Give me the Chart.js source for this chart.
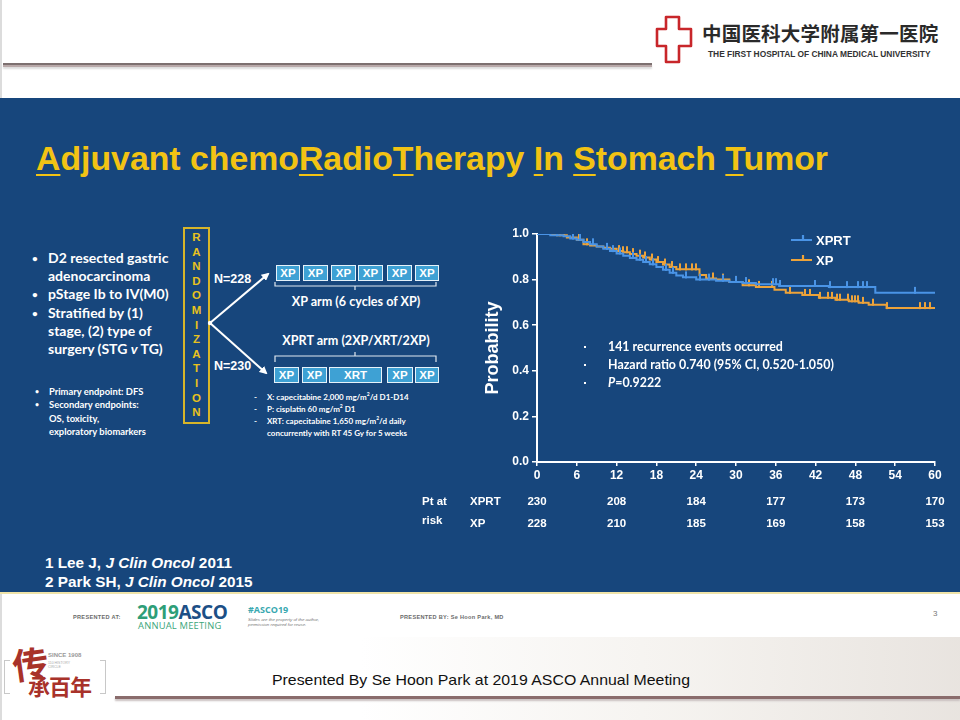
<!DOCTYPE html>
<html>
<head>
<meta charset="utf-8">
<script src="https://cdn.jsdelivr.net/npm/chart.js@4.4.1/dist/chart.umd.min.js"></script>
<style>
body { margin: 0; width: 960px; height: 720px; position: relative; background: #fff; overflow: hidden; font-family: "Liberation Sans", Arial, sans-serif; }
.abs { position: absolute; white-space: nowrap; }
#edge { left: 0; top: 0; width: 2px; height: 720px; background: #dcdcdc; }
#topline { left: 3px; top: 63px; width: 649px; height: 2px; background: #7d7070; border-bottom: 2px solid #b9a9a9; box-shadow: 0 2px 2px #ddd; }
#hospCn { left: 702px; top: 18px; font-family: "Noto Sans CJK SC"; font-weight: 700; font-size: 19.5px; color: #2a2a2a; letter-spacing: 0.2px; }
#hospEn { left: 708px; top: 49px; font-weight: 700; font-size: 8.4px; color: #333; }
#panel { left: 0; top: 98px; width: 960px; height: 494px; background: #17467c; border-bottom: 2px solid #efe3a8; }
#title { left: 36px; top: 140px; font-weight: 700; font-size: 33px; color: #f2c314; transform-origin: 0 0; }
#title u { text-decoration-thickness: 2px; text-underline-offset: 4px; }
.bul { color: #fff; font-family: Lato, "Open Sans", sans-serif; font-weight: 700; }
.big { font-size: 14px; line-height: 18.2px; }
.dot { font-size: 10px; line-height: 18.2px; }
.small { font-size: 9.4px; line-height: 13.4px; }
.sdot { font-size: 7px; line-height: 13.4px; }
.note { font-size: 8px; line-height: 12px; }
#randBox { left: 183px; top: 227px; width: 23px; height: 193px; border: 2px solid #d7b52a; }
.letter { position: absolute; left: 0; width: 23px; text-align: center; color: #e8c21e; font-weight: 700; font-size: 11.5px; }
.cyc { position: absolute; height: 14px; background: #3ea1d4; border: 1px solid #e6f2fa; color: #fff; font-weight: 700; font-size: 11.5px; line-height: 14px; text-align: center; }
.arm { color: #fff; font-family: Lato, "Open Sans", sans-serif; font-weight: 700; font-size: 12.6px; }
.nlab { color: #fff; font-weight: 700; font-size: 12.5px; }
#refs { left: 45px; top: 553px; color: #fff; font-weight: 700; font-size: 15.3px; line-height: 19px; }
#chartBox { left: 410px; top: 215px; width: 545px; height: 330px; }
#asco1 { left: 73px; top: 614px; font-size: 5.6px; color: #6b6b6b; letter-spacing: 0.3px; font-weight: 700; }
#asco2 { left: 137px; top: 599px; font-family: "Open Sans", sans-serif; font-weight: 700; font-size: 19px; letter-spacing: -0.5px; }
#asco3 { left: 138px; top: 619px; font-family: "Open Sans", sans-serif; font-size: 9.4px; color: #3aa57a; letter-spacing: 0.2px; }
#asco4 { left: 248px; top: 603px; font-family: "Open Sans", sans-serif; font-size: 9px; color: #38a8b0; font-weight: 700; }
#asco5 { left: 248px; top: 617px; font-size: 4.4px; color: #777; line-height: 5px; font-style: italic; }
#asco6 { left: 400px; top: 614px; font-size: 5.6px; color: #6b6b6b; letter-spacing: 0.3px; font-weight: 700; }
#pageNo { left: 933px; top: 609px; font-size: 8px; color: #777; }
#sketch { left: 360px; top: 637px; width: 600px; height: 83px; background: linear-gradient(90deg, rgba(255,255,255,0) 0%, rgba(225,218,208,0.35) 55%, rgba(205,195,185,0.45) 100%); }
#presented { left: 272px; top: 671px; font-size: 15px; color: #111; transform-origin: 0 0; }
#botline { left: 115px; top: 696px; width: 845px; height: 3px; background: #8a6c6c; box-shadow: 0 2px 2px #c9c0c0; }
.cal { font-family: "Noto Sans CJK SC"; color: #a8322a; font-weight: 700; }
.brk { position: absolute; top: 660px; width: 5px; height: 32px; border: 1.5px solid #c8c8c8; }
</style>
</head>
<body>
<div id="edge" class="abs"></div>

<svg class="abs" style="left:654px;top:14px" width="40" height="52" viewBox="0 0 40 52">
  <path d="M12,3 H25 V15 H37 V32 H25 V48 H12 V32 H3 V15 H12 Z" fill="none" stroke="#c8262a" stroke-width="2.6" stroke-linejoin="round"/>
</svg>
<div id="hospCn" class="abs">中国医科大学附属第一医院</div>
<div id="hospEn" class="abs">THE FIRST HOSPITAL OF CHINA MEDICAL UNIVERSITY</div>
<div id="topline" class="abs"></div>

<div id="panel" class="abs"></div>
<div id="title" class="abs"><u>A</u>djuvant chemo<u>R</u>adio<u>T</u>herapy <u>I</u>n <u>S</u>tomach <u>T</u>umor</div>

<!-- left bullets -->
<div class="abs bul dot" style="left:32px;top:249px">•<br><br>•<br>•</div>
<div class="abs bul big" style="left:48px;top:249px">D2 resected gastric<br>adenocarcinoma<br>pStage Ib to IV(M0)<br>Stratified by (1)<br>stage, (2) type of<br>surgery (STG <i>v</i> TG)</div>
<div class="abs bul sdot" style="left:35px;top:385px">•<br>•</div>
<div class="abs bul small" style="left:49px;top:385px">Primary endpoint: DFS<br>Secondary endpoints:<br>OS, toxicity,<br>exploratory biomarkers</div>

<!-- randomization -->
<div id="randBox" class="abs"></div>
<div class="abs" id="randLetters" style="left:185px;top:229px;width:23px;height:190px"></div>

<svg class="abs" style="left:200px;top:260px" width="80" height="125" viewBox="0 0 80 125">
  <defs>
    <marker id="ah" markerWidth="8" markerHeight="8" refX="6" refY="4" orient="auto" markerUnits="userSpaceOnUse">
      <path d="M0,0 L8,4 L0,8 Z" fill="#fff"/>
    </marker>
  </defs>
  <circle cx="10" cy="63" r="2.2" fill="#fff"/>
  <line x1="10" y1="63" x2="68" y2="14" stroke="#fff" stroke-width="2" marker-end="url(#ah)"/>
  <line x1="10" y1="63" x2="66" y2="113" stroke="#fff" stroke-width="2" marker-end="url(#ah)"/>
</svg>
<div class="abs nlab" style="left:214px;top:272px">N=228</div>
<div class="abs nlab" style="left:214px;top:359px">N=230</div>

<div class="abs" id="rowTop" style="left:0;top:265px"></div>
<div class="abs" id="rowBot" style="left:0;top:367px"></div>

<svg class="abs" style="left:270px;top:282px" width="175" height="80" viewBox="0 0 175 80">
  <path d="M5,0 V4 H166 V0 M85,4 V8" fill="none" stroke="#dfe8f0" stroke-width="1.2"/>
  <path d="M5,80 V74 H166 V80 M85,74 V70" fill="none" stroke="#dfe8f0" stroke-width="1.2"/>
</svg>
<div class="abs arm" style="left:356px;top:294px;transform:translateX(-50%)">XP arm (6 cycles of XP)</div>
<div class="abs arm" style="left:356px;top:333px;transform:translateX(-50%)">XPRT arm (2XP/XRT/2XP)</div>

<div class="abs bul note" style="left:254px;top:391px">-<br>-<br>-</div>
<div class="abs bul note" style="left:267px;top:391px">X: capecitabine 2,000 mg/m<sup style="font-size:5px;line-height:0">2</sup>/d D1-D14<br>P: cisplatin 60 mg/m<sup style="font-size:5px;line-height:0">2</sup> D1<br>XRT: capecitabine 1,650 mg/m<sup style="font-size:5px;line-height:0">2</sup>/d daily<br>concurrently with RT 45 Gy for 5 weeks</div>

<div id="refs" class="abs">1 Lee J, <i>J Clin Oncol</i> 2011<br>2 Park SH, <i>J Clin Oncol</i> 2015</div>

<div id="chartBox" class="abs"><canvas id="km"></canvas></div>

<!-- footer -->
<div id="asco1" class="abs">PRESENTED AT:</div>
<div id="asco2" class="abs"><span style="color:#2e9e78">2019</span><span style="color:#1c4f86">ASCO</span></div>
<div id="asco3" class="abs">ANNUAL MEETING</div>
<div id="asco4" class="abs">#ASCO19</div>
<div id="asco5" class="abs">Slides are the property of the author,<br>permission required for reuse.</div>
<div id="asco6" class="abs">PRESENTED BY: Se Hoon Park, MD</div>
<div id="pageNo" class="abs">3</div>

<div id="sketch" class="abs"></div>
<div class="brk" style="left:4px;border-right:none"></div>
<div class="brk" style="left:100px;border-left:none"></div>
<div class="abs cal" style="left:12px;top:636px;font-size:36px;transform:rotate(-8deg)">传</div>
<div class="abs cal" style="left:28px;top:669px;font-size:22px;letter-spacing:-1px">承百年</div>
<div class="abs" style="left:48px;top:652px;font-size:6px;color:#999;font-weight:700">SINCE 1908</div>
<div class="abs" style="left:48px;top:661px;font-size:3.5px;color:#aaa;line-height:4px">110 HISTORY<br>CIRCLE</div>
<div id="presented" class="abs">Presented By Se Hoon Park at 2019 ASCO Annual Meeting</div>
<div id="botline" class="abs"></div>

<script>
// Kaplan-Meier steps (months, survival probability)
const xprtTime = [0, 2, 4, 5, 6, 7, 8, 9, 10, 11, 12, 13, 14, 15, 16, 17, 18, 19, 20, 21, 22, 24, 27, 29, 31, 33, 36.5, 44, 51, 60]
const xprtSurv = [1.0, 0.995, 0.99, 0.98, 0.975, 0.965, 0.955, 0.945, 0.935, 0.925, 0.915, 0.905, 0.895, 0.887, 0.877, 0.867, 0.855, 0.843, 0.83, 0.818, 0.81, 0.80, 0.795, 0.79, 0.785, 0.78, 0.772, 0.767, 0.742, 0.742]
const xpTime = [0, 3, 4.5, 6, 7, 8, 9, 10, 11, 12, 13, 14, 15, 16, 17, 18, 19, 20, 21, 24.5, 25.5, 27, 29, 31, 33, 35.8, 37.5, 40, 42.5, 45, 47, 48.5, 50, 52.7, 60]
const xpSurv = [1.0, 0.995, 0.985, 0.975, 0.955, 0.95, 0.945, 0.94, 0.935, 0.925, 0.92, 0.912, 0.905, 0.897, 0.888, 0.877, 0.866, 0.855, 0.845, 0.82, 0.805, 0.80, 0.79, 0.775, 0.768, 0.755, 0.742, 0.733, 0.72, 0.712, 0.705, 0.698, 0.69, 0.675, 0.675]

// censoring marks (months)
const xprtCensor = [1, 3, 5.5, 6.5, 8.5, 10.5, 11.5, 12.5, 14.5, 15.5, 16.5, 17.5, 19.5, 20.5, 22.5, 24.5, 26, 28, 30, 31.5, 35.6, 36, 36.6, 41.9, 44.2, 46.7, 48.4, 49.2, 49.7, 57]
const xpCensor = [1.5, 2, 3.5, 4, 6.3, 7.5, 12.3, 13, 13.5, 14.5, 15.5, 16.3, 17.3, 18.3, 19.3, 20.3, 21.5, 22.5, 23.3, 24, 26.5, 28, 30, 32, 33.5, 35.4, 38.1, 40.4, 41.2, 42.6, 43.9, 44.5, 45.2, 45.7, 46.9, 47.5, 47.9, 48.4, 49.2, 50.7, 52.8, 57.7, 58.5, 59.2]

const xTicks = [0, 6, 12, 18, 24, 30, 36, 42, 48, 54, 60]
const riskTimes = [0, 12, 24, 36, 48, 60]
const xprtRisk = [230, 208, 184, 177, 173, 170]
const xpRisk = [228, 210, 185, 169, 158, 153]

const annotations = ["141 recurrence events occurred", "Hazard ratio 0.740 (95% CI, 0.520-1.050)", "=0.9222"]

const BLUE = "#4a94e6"
const ORANGE = "#eda33a"

// value of the step curve at time t (for placing censor ticks on the curve)
function survAt(times, surv, t) {
    let s = surv[0]
    for (let i = 0; i < times.length; i++) {
        if (times[i] <= t) s = surv[i]
    }
    return s
}

const toPts = (ts, ss) => ts.map((t, i) => ({ x: t, y: ss[i] }))
const censorPts = (cs, ts, ss) => cs.map(t => ({ x: t, y: survAt(ts, ss, t) }))

// upward censor tick as a point image (bottom half transparent so it sits on the curve)
function tickImage(color) {
    const c = document.createElement("canvas")
    c.width = 2
    c.height = 14
    const g = c.getContext("2d")
    g.fillStyle = color
    g.fillRect(0, 1, 2, 7)
    return c
}

// randomization letters and cycle boxes
const randLetters = document.getElementById("randLetters")
"RANDOMIZATION".split("").forEach((ch, i) => {
    const d = document.createElement("div")
    d.className = "letter"
    d.style.top = (2 + i * 14.6) + "px"
    d.textContent = ch
    randLetters.appendChild(d)
})
const topBoxes = [[276, 24], [303, 25], [331, 25], [358, 25], [387, 25], [415, 24]]
const botBoxes = [[274, 25, "XP"], [302, 25, "XP"], [329, 53, "XRT"], [387, 26, "XP"], [415, 24, "XP"]]
function addBoxes(rowId, boxes) {
    const row = document.getElementById(rowId)
    boxes.forEach(b => {
        const d = document.createElement("div")
        d.className = "cyc"
        d.style.left = b[0] + "px"
        d.style.width = (b[1] - 2) + "px"
        d.textContent = b[2] || "XP"
        row.appendChild(d)
    })
}
addBoxes("rowTop", topBoxes)
addBoxes("rowBot", botBoxes)

// fit a few text lines to the widths seen on the slide
function fitWidth(id, target) {
    const el = document.getElementById(id)
    const w = el.getBoundingClientRect().width
    el.style.transform = "scaleX(" + (target / w) + ")"
}
fitWidth("title", 792)
fitWidth("presented", 418)

const extras = {
    id: "extras",
    afterDraw(chart) {
        const { ctx, chartArea, scales } = chart
        const x = scales.x
        ctx.save()
        ctx.fillStyle = "#fff"
        ctx.textBaseline = "middle"

        // legend
        const legend = [["XPRT", BLUE, 25], ["XP", ORANGE, 45]]
        legend.forEach(([lab, col, ly]) => {
            ctx.strokeStyle = col
            ctx.lineWidth = 2.2
            ctx.beginPath()
            ctx.moveTo(381, ly); ctx.lineTo(402, ly)
            ctx.moveTo(393, ly); ctx.lineTo(393, ly - 5)
            ctx.stroke()
            ctx.font = "bold 13px 'Liberation Sans'"
            ctx.textAlign = "left"
            ctx.fillText(lab, 406, ly + 1)
        })

        // annotation block
        ctx.font = "bold 12.4px Lato"
        annotations.forEach((txt, i) => {
            const ty = 132 + i * 18
            ctx.fillRect(174, ty - 1, 2, 2)
            if (i === 2) {
                ctx.font = "italic bold 12.4px Lato"
                ctx.fillText("P", 198, ty)
                const pw = ctx.measureText("P").width
                ctx.font = "bold 12.4px Lato"
                ctx.fillText(txt, 198 + pw, ty)
            } else {
                ctx.fillText(txt, 198, ty)
            }
        })

        // number at risk
        ctx.font = "bold 11.5px 'Liberation Sans'"
        ctx.fillText("Pt at", 12, chartArea.bottom + 40)
        ctx.fillText("risk", 12, chartArea.bottom + 59)
        ctx.fillText("XPRT", 60, chartArea.bottom + 40)
        ctx.fillText("XP", 60, chartArea.bottom + 62)
        ctx.textAlign = "center"
        riskTimes.forEach((t, i) => {
            const px = x.getPixelForValue(t)
            ctx.fillText(String(xprtRisk[i]), px, chartArea.bottom + 40)
            ctx.fillText(String(xpRisk[i]), px, chartArea.bottom + 62)
        })
        ctx.restore()
    }
}

new Chart(document.getElementById("km"), {
    type: "line",
    data: {
        datasets: [
            {
                label: "XPRT",
                data: toPts(xprtTime, xprtSurv),
                borderColor: BLUE,
                borderWidth: 2,
                stepped: true,
                pointRadius: 0,
                fill: false
            },
            {
                label: "XPRT censored",
                data: censorPts(xprtCensor, xprtTime, xprtSurv),
                showLine: false,
                pointStyle: tickImage(BLUE)
            },
            {
                label: "XP",
                data: toPts(xpTime, xpSurv),
                borderColor: ORANGE,
                borderWidth: 2,
                stepped: true,
                pointRadius: 0,
                fill: false
            },
            {
                label: "XP censored",
                data: censorPts(xpCensor, xpTime, xpSurv),
                showLine: false,
                pointStyle: tickImage(ORANGE)
            }
        ]
    },
    options: {
        responsive: true,
        maintainAspectRatio: false,
        animation: false,
        layout: { padding: { left: 72, right: 20, top: 19, bottom: 53 } },
        plugins: {
            legend: { display: false },
            tooltip: { enabled: false }
        },
        scales: {
            x: {
                type: "linear",
                min: 0,
                max: 60,
                afterFit: s => { s.height = 30 },
                afterBuildTicks: s => { s.ticks = xTicks.map(v => ({ value: v })) },
                border: { color: "#fff", width: 2 },
                grid: { drawOnChartArea: false, color: "#fff", tickLength: 4, lineWidth: 1.5 },
                ticks: { color: "#fff", font: { family: "Liberation Sans", weight: "bold", size: 12 }, padding: 2, maxRotation: 0 }
            },
            y: {
                min: 0,
                max: 1,
                afterFit: s => { s.width = 55 },
                border: { color: "#fff", width: 2 },
                grid: { drawOnChartArea: false, color: "#fff", tickLength: 5, lineWidth: 1.5 },
                ticks: {
                    stepSize: 0.2,
                    color: "#fff",
                    font: { family: "Liberation Sans", weight: "bold", size: 12 },
                    padding: 3,
                    callback: v => v.toFixed(1)
                },
                title: {
                    display: true,
                    text: "Probability",
                    color: "#fff",
                    padding: 0,
                    font: { family: "Liberation Sans", weight: "bold", size: 18 }
                }
            }
        }
    },
    plugins: [extras]
})
</script>
</body>
</html>
